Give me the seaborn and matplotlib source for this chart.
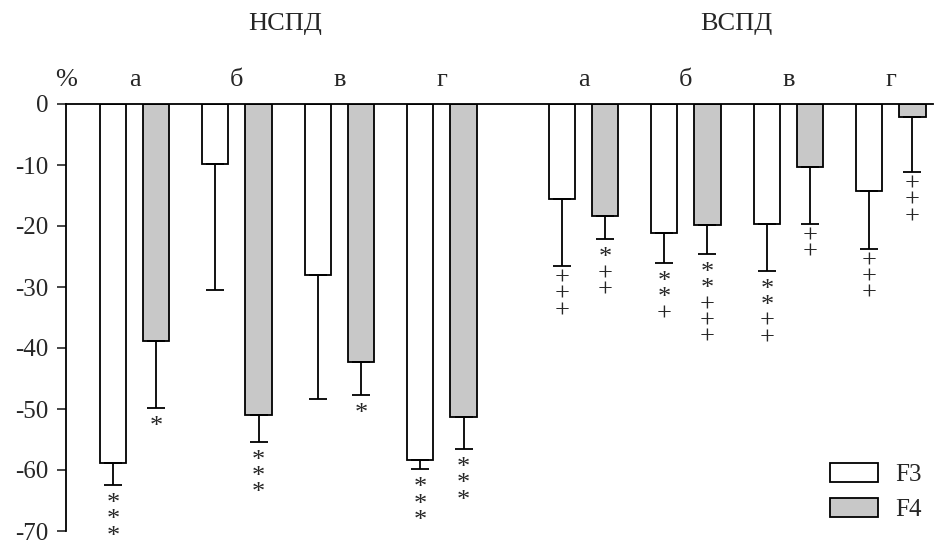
import pandas as pd
import numpy as np
import matplotlib
matplotlib.use('Agg')
import matplotlib.pyplot as plt
import matplotlib.transforms as mtransforms
import seaborn as sns

# data (% change, negative values)
letters = ['а', 'б', 'в', 'г', 'а', 'б', 'в', 'г']
group_x = [0, 1, 2, 3, 4.38, 5.38, 6.38, 7.38]
f3_mean = [-58.9, -9.9, -28.0, -58.4, -15.5, -21.1, -19.6, -14.2]
f4_mean = [-38.8, -51.0, -42.3, -51.3, -18.3, -19.8, -10.4, -2.2]
f3_low = [-62.5, -30.5, -48.4, -59.9, -26.5, -26.0, -27.3, -23.7]
f4_low = [-49.9, -55.4, -47.7, -56.6, -22.2, -24.6, -19.6, -11.1]
f3_marks = ['***', '', '', '***', '+++', '**+', '**++', '+++']
f4_marks = ['*', '***', '*', '***', '*++', '**+++', '++', '+++']

sns.set_style('white')
plt.rcParams['font.family'] = ['Liberation Serif', 'DejaVu Serif']
plt.rcParams['axes.unicode_minus'] = False

fig = plt.figure(figsize=(9.35, 5.42), dpi=100)
ax = fig.add_axes([66/935, 1-531/542, (933-66)/935, (531-104)/542])

df = pd.DataFrame({
    'x': group_x + group_x,
    'val': f3_mean + f4_mean,
    'series': ['F3']*8 + ['F4']*8,
})

sns.barplot(data=df, x='x', y='val', hue='series', native_scale=True,
            palette={'F3': 'white', 'F4': '#c8c8c8'}, edgecolor='black',
            linewidth=1.3, width=0.84, gap=0.395, errorbar=None, ax=ax)

off = 0.21
for means, lows, marks, sgn in [(f3_mean, f3_low, f3_marks, -1), (f4_mean, f4_low, f4_marks, 1)]:
    xs = np.array(group_x) + sgn*off
    lower = np.array(means) - np.array(lows)
    ax.errorbar(xs, means, yerr=[lower, np.zeros(len(xs))], fmt='none',
                ecolor='black', elinewidth=1.3, capsize=6.5, capthick=1.3, zorder=1)
    for x, lo, m in zip(xs, lows, marks):
        if not m:
            continue
        dy = -8 if m[0] == '*' else -2
        ax.annotate('\n'.join(m), (x, lo), xytext=(0, dy), textcoords='offset pixels',
                    ha='center', va='top', fontsize=19, linespacing=0.66,
                    annotation_clip=False)

ax.set_ylim(-70, 0)
ax.set_xlim(-0.668, 7.79)
ax.set_yticks(range(-70, 1, 10))
ax.set_xticks([])
ax.set_xlabel('')
ax.set_ylabel('')
ax.tick_params(axis='y', direction='out', length=6.5, width=1.2, labelsize=18, pad=6, left=True)
for side in ['right', 'bottom']:
    ax.spines[side].set_visible(False)
for side in ['left', 'top']:
    ax.spines[side].set_linewidth(1.3)
    ax.spines[side].set_color('black')

# letters above the groups
trans = mtransforms.blended_transform_factory(ax.transData, fig.transFigure)
for x, l in zip(group_x, letters):
    ax.text(x, 1-80/542, l, transform=trans, ha='center', va='center', fontsize=19)
fig.text(66/935, 1-80/542, '%', ha='center', va='center', fontsize=19)
fig.text(285/935, 1-24/542, 'НСПД', ha='center', va='center', fontsize=19)
fig.text(736/935, 1-24/542, 'ВСПД', ha='center', va='center', fontsize=19)

handles, labels = ax.get_legend_handles_labels()
ax.get_legend().remove()
fig.legend(handles, labels, loc='upper left', bbox_to_anchor=(830/935, 1-463/542),
           frameon=False, fontsize=18, handlelength=1.9, handleheight=0.8,
           labelspacing=0.45, handletextpad=0.7, borderpad=0, borderaxespad=0)

fig.savefig('out.png', dpi=100)
